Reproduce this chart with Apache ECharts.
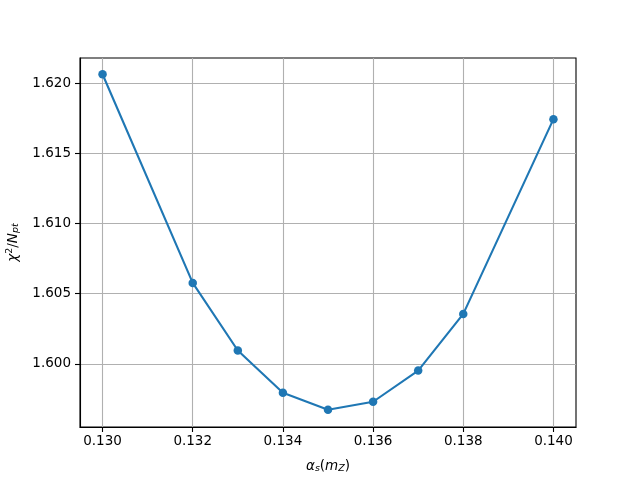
<!DOCTYPE html>
<html>
<head>
<meta charset="utf-8">
<script src="https://cdn.jsdelivr.net/npm/echarts@6/dist/echarts.min.js"></script>
<style>html,body{margin:0;padding:0;background:#fff}#c{width:640px;height:480px}</style>
</head>
<body>
<div id="c"></div>
<script>
var alphaS = [0.130, 0.132, 0.133, 0.134, 0.135, 0.136, 0.137, 0.138, 0.140];
var chi2 = [1.62064, 1.60577, 1.60095, 1.59794, 1.59673, 1.59730, 1.59952, 1.60356, 1.61744];
var xTicks = [0.130, 0.132, 0.134, 0.136, 0.138, 0.140];
var yTicks = [1.600, 1.605, 1.610, 1.615, 1.620];

var font = 'DejaVu Sans';
var chart = echarts.init(document.getElementById('c'), null, {renderer: 'canvas'});
chart.setOption({
  animation: false,
  backgroundColor: '#fff',
  grid: {left: 80, right: 64, top: 58, bottom: 53, containLabel: false, outerBoundsMode: 'none',
    show: true, borderColor: '#000', borderWidth: 1.1, backgroundColor: 'transparent'},
  xAxis: {
    type: 'value', min: 0.1295, max: 0.1405,
    axisLine: {show: true, lineStyle: {color: '#000', width: 1.1}},
    axisTick: {show: true, length: 5, lineStyle: {color: '#000', width: 1.1}, customValues: xTicks},
    axisLabel: {customValues: xTicks, color: '#000', fontFamily: font, fontSize: 13.5, margin: 7,
      formatter: function (v) { return v.toFixed(3); }},
    splitLine: {show: true, lineStyle: {color: '#b0b0b0', width: 1.1}},
    name: '{i|α}{sub|s}{n|(}{i|m}{sub|Z}{n|)}',
    nameLocation: 'middle', nameGap: 31,
    nameTextStyle: {color: '#000', fontFamily: font, fontSize: 13.5,
      rich: {i: {fontStyle: 'italic', fontFamily: font, fontSize: 13.5, color: '#000'},
             n: {fontFamily: font, fontSize: 13.5, color: '#000'},
             sub: {fontStyle: 'italic', fontFamily: font, fontSize: 9.5, color: '#000', verticalAlign: 'bottom', padding: [6, 0, 0, 0]}}}
  },
  yAxis: {
    type: 'value', min: 1.5955, max: 1.6218,
    axisLine: {show: true, lineStyle: {color: '#000', width: 1.1}},
    axisTick: {show: true, length: 5, lineStyle: {color: '#000', width: 1.1}, customValues: yTicks},
    axisLabel: {customValues: yTicks, color: '#000', fontFamily: font, fontSize: 13.5, margin: 9,
      formatter: function (v) { return v.toFixed(3); }},
    splitLine: {show: true, lineStyle: {color: '#b0b0b0', width: 1.1}},
    name: '{i|χ}{sup|2}{n|/}{i|N}{sub|pt}',
    nameLocation: 'middle', nameGap: 59, nameRotate: 90,
    nameTextStyle: {color: '#000', fontFamily: font, fontSize: 13.5,
      rich: {i: {fontStyle: 'italic', fontFamily: font, fontSize: 13.5, color: '#000'},
             n: {fontFamily: font, fontSize: 13.5, color: '#000'},
             sup: {fontFamily: font, fontSize: 9.5, color: '#000', padding: [0, 0, 6, 0]},
             sub: {fontStyle: 'italic', fontFamily: font, fontSize: 9.5, color: '#000', padding: [6, 0, 0, 0]}}}
  },
  series: [{
    type: 'line',
    data: alphaS.map(function (x, i) { return [x, chi2[i]]; }),
    symbol: 'circle', symbolSize: 8.5,
    lineStyle: {color: '#1f77b4', width: 2.1},
    itemStyle: {color: '#1f77b4'},
    z: 5
  }]
});
</script>
</body>
</html>
